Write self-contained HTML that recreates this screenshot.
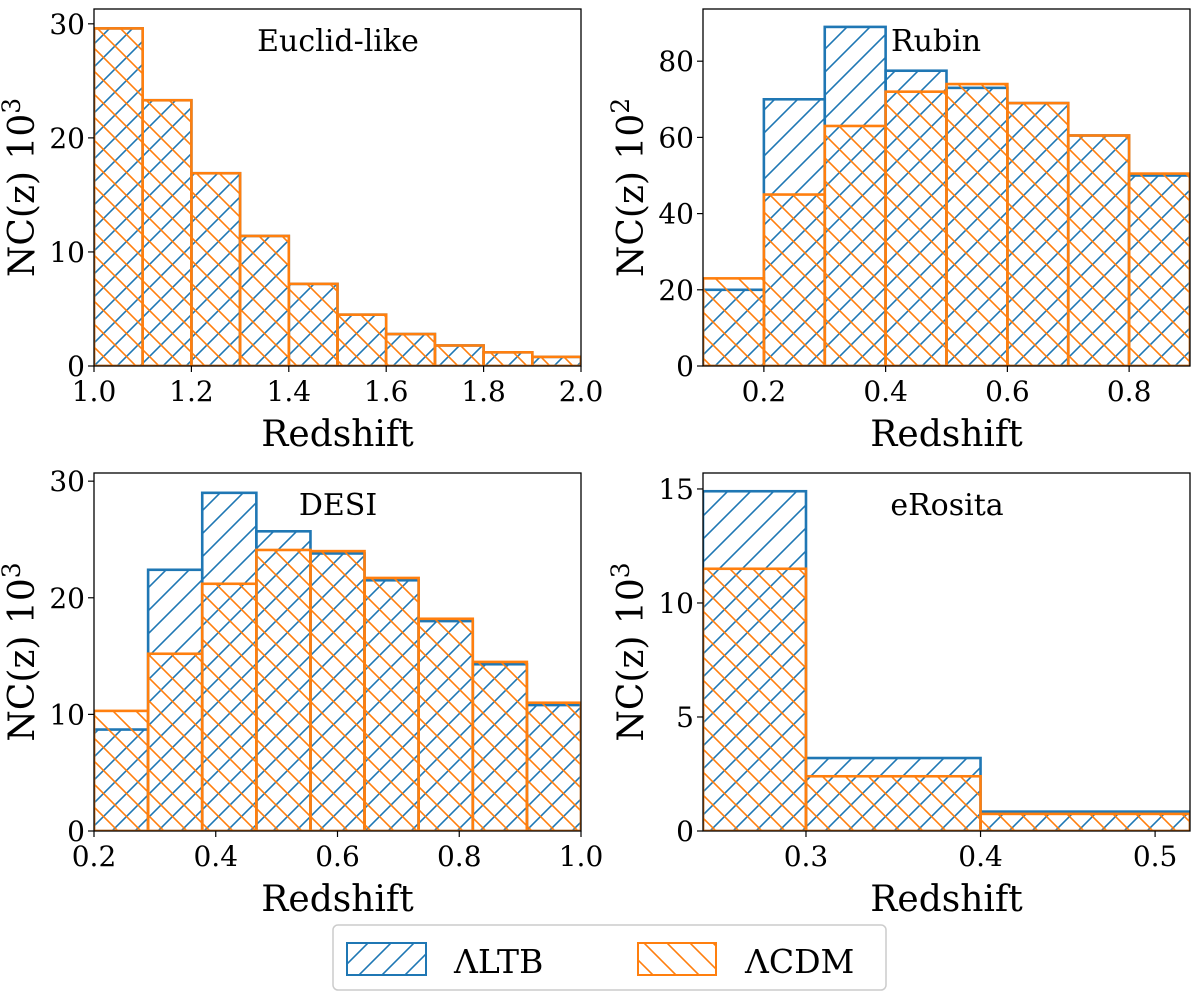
<!DOCTYPE html>
<html><head><meta charset="utf-8"><style>
body{margin:0;background:#fff}
svg text{font-family:"DejaVu Serif","Liberation Serif",serif;fill:#000}
</style></head><body>
<svg id="fig" width="1200" height="1002" viewBox="0 0 1200 1002" xmlns="http://www.w3.org/2000/svg">
<defs>
<pattern id="hb" patternUnits="userSpaceOnUse" width="23" height="23">
<path d="M-2,25 L25,-2 M-2,2 L2,-2 M21,25 L25,21" stroke="#1f77b4" stroke-width="1.6"/>
</pattern>
<pattern id="ho" patternUnits="userSpaceOnUse" width="23" height="23">
<path d="M-2,-2 L25,25 M21,-2 L25,2 M-2,21 L2,25" stroke="#ff7f0e" stroke-width="1.6"/>
</pattern>
</defs>
<g id="plots"></g>
<g>
<rect x="333" y="925" width="553" height="65" rx="5" fill="#fff" stroke="#ccc" stroke-width="1.5"/>
<rect x="347" y="943" width="79" height="32" fill="url(#hb)" stroke="#1f77b4" stroke-width="2"/>
<text x="454" y="973" font-size="33">ΛLTB</text>
<rect x="638" y="943" width="78" height="32" fill="url(#ho)" stroke="#ff7f0e" stroke-width="2"/>
<text x="745" y="973" font-size="33">ΛCDM</text>
</g>
</svg>
<script>
const euclidEdges=[1.0,1.1,1.2,1.3,1.4,1.5,1.6,1.7,1.8,1.9,2.0];
const euclidLTB=[29.6,23.3,16.9,11.4,7.2,4.5,2.8,1.8,1.2,0.8];
const euclidCDM=[29.6,23.3,16.9,11.4,7.2,4.5,2.8,1.8,1.2,0.8];
const rubinEdges=[0.1,0.2,0.3,0.4,0.5,0.6,0.7,0.8,0.9];
const rubinLTB=[20,70,89,77.5,73,69,60.5,50];
const rubinCDM=[23,45,63,72,74,69,60.5,50.5];
const desiEdges=[0.2,0.2889,0.3778,0.4667,0.5556,0.6444,0.7333,0.8222,0.9111,1.0];
const desiLTB=[8.7,22.4,29,25.7,23.8,21.5,18,14.3,10.8];
const desiCDM=[10.3,15.2,21.2,24.1,24,21.7,18.2,14.5,11];
const eroEdges=[0.241,0.3,0.4,0.52];
const eroLTB=[14.9,3.2,0.85];
const eroCDM=[11.5,2.4,0.75];
const euclidXTicks=[1.0,1.2,1.4,1.6,1.8,2.0], euclidYTicks=[0,10,20,30];
const rubinXTicks=[0.2,0.4,0.6,0.8], rubinYTicks=[0,20,40,60,80];
const desiXTicks=[0.2,0.4,0.6,0.8,1.0], desiYTicks=[0,10,20,30];
const eroXTicks=[0.3,0.4,0.5], eroYTicks=[0,5,10,15];

const NS="http://www.w3.org/2000/svg";
const root=document.getElementById('plots');
function mk(tag,attrs,parent){const e=document.createElementNS(NS,tag);for(const k in attrs)e.setAttribute(k,attrs[k]);parent.appendChild(e);return e;}
function panel(name,L,T,W,H,xmin,xmax,ymax,edges,ltb,cdm,xt,yt,title,tx,exp,xdec){
  const g=mk('g',{},root);
  
  
  const sx=v=>L+(v-xmin)/(xmax-xmin)*W;
  const sy=v=>T+H-v/ymax*H;
  const clip='c'+name;
  const cp=mk('clipPath',{id:clip},g);mk('rect',{x:L,y:T,width:W,height:H},cp);
  const bars=mk('g',{'clip-path':'url(#'+clip+')'},g);
  [[ltb,'#1f77b4','hb','ltb'],[cdm,'#ff7f0e','ho','lcdm']].forEach(([vals,col,pat,s])=>{
    vals.forEach((v,i)=>{
      const x0=sx(edges[i]),x1=sx(edges[i+1]),y=sy(v);
      const r=mk('rect',{x:x0,y:y,width:x1-x0,height:T+H-y,fill:'url(#'+pat+')',stroke:col,'stroke-width':2.6},bars);
      
      
    });
  });
  mk('rect',{x:L,y:T,width:W,height:H,fill:'none',stroke:'#000','stroke-width':1.3},g);
  xt.forEach(v=>{const x=sx(v);mk('line',{x1:x,x2:x,y1:T+H,y2:T+H+6,stroke:'#000','stroke-width':1.2},g);
    const t=mk('text',{x:x,y:T+H+35,'font-size':28,'text-anchor':'middle'},g);t.textContent=v.toFixed(xdec);
    });
  yt.forEach(v=>{const y=sy(v);mk('line',{x1:L-6,x2:L,y1:y,y2:y,stroke:'#000','stroke-width':1.2},g);
    const t=mk('text',{x:L-9,y:y+10,'font-size':28,'text-anchor':'end'},g);t.textContent=v;
    });
  const xl=mk('text',{x:L+W/2,y:T+H+80,'font-size':36,'text-anchor':'middle'},g);xl.textContent='Redshift';
  
  const yl=mk('text',{x:0,y:0,'font-size':36,'text-anchor':'middle',transform:'translate('+(L-60)+','+(T+H/2)+') rotate(-90)'},g);
  yl.textContent='NC(z) 10';const sp=mk('tspan',{'font-size':25,dy:-14},yl);sp.textContent=exp;
  
  const ti=mk('text',{x:tx,y:T+42,'font-size':30,'text-anchor':'middle'},g);ti.textContent=title;
  
}
panel('euclid',94,9,487,357,1.0,2.0,31.3,euclidEdges,euclidLTB,euclidCDM,euclidXTicks,euclidYTicks,'Euclid-like',338,'3',1);
panel('rubin',703,9,487,357,0.1,0.9,93.7,rubinEdges,rubinLTB,rubinCDM,rubinXTicks,rubinYTicks,'Rubin',936,'2',1);
panel('desi',94,473,487,358,0.2,1.0,30.7,desiEdges,desiLTB,desiCDM,desiXTicks,desiYTicks,'DESI',338,'3',1);
panel('erosita',703,473,487,358,0.241,0.52,15.7,eroEdges,eroLTB,eroCDM,eroXTicks,eroYTicks,'eRosita',947,'3',1);
</script>
</body></html>
